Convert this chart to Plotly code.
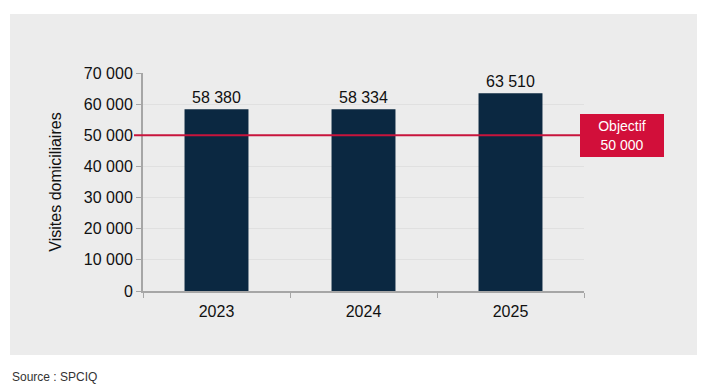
import plotly.graph_objects as go

years = ["2023", "2024", "2025"]
visits = [58380, 58334, 63510]
bar_labels = ["58 380", "58 334", "63 510"]
tick_vals = [0, 10000, 20000, 30000, 40000, 50000, 60000, 70000]
tick_text = ["0", "10 000", "20 000", "30 000", "40 000", "50 000", "60 000", "70 000"]
target = 50000
target_label = "Objectif<br>50 000"
source = "Source : SPCIQ"

W, H = 704, 389
L, R, T, B = 143, 584, 73, 291
pw, ph = R - L, B - T

def px(x):
    return (x - L) / pw

def py(y):
    return (B - y) / ph

font = "Liberation Sans, Arial, sans-serif"

fig = go.Figure()
fig.add_trace(go.Bar(
    x=years, y=visits, text=bar_labels, textposition="outside",
    textfont=dict(size=16, color="#111111", family=font),
    marker=dict(color="#0b2841", line=dict(width=0)),
    width=0.435, cliponaxis=False, hoverinfo="skip",
))

fig.add_shape(type="rect", xref="paper", yref="paper",
              x0=px(10), x1=px(697), y0=py(355), y1=py(14),
              fillcolor="#ececec", line=dict(width=0), layer="below")
fig.add_shape(type="line", xref="paper", yref="y",
              x0=px(134), x1=px(580), y0=target, y1=target,
              line=dict(color="#c8143c", width=2))

fig.add_annotation(xref="paper", yref="y", x=px(580), y=target,
                   xanchor="left", yanchor="middle", text=target_label,
                   showarrow=False, align="center",
                   font=dict(size=14, color="#ffffff", family=font),
                   bgcolor="#d20f3a", width=76, height=35, borderpad=4,
                   borderwidth=0)

fig.add_annotation(xref="paper", yref="paper", x=px(10), y=py(377),
                   xanchor="left", yanchor="middle", text=source,
                   showarrow=False,
                   font=dict(size=12, color="#333333", family=font))

fig.update_layout(
    width=W, height=H,
    margin=dict(l=L, r=W - R, t=T, b=H - B),
    paper_bgcolor="#ffffff", plot_bgcolor="rgba(0,0,0,0)",
    showlegend=False, bargap=0.565,
    font=dict(family=font, size=16, color="#111111"),
    xaxis=dict(showline=True, linecolor="#a6a6a6", linewidth=2,
               ticks="outside", ticklen=5, tickcolor="#a6a6a6",
               tickson="boundaries", showgrid=False, ticklabelstandoff=5,
               tickfont=dict(size=16, color="#111111")),
    yaxis=dict(range=[0, 70000], tickvals=tick_vals, ticktext=tick_text,
               showline=True, linecolor="#a6a6a6", linewidth=2,
               ticks="outside", ticklen=5, tickcolor="#a6a6a6",
               showgrid=True, gridcolor="#e0e0e0", gridwidth=1,
               zeroline=False,
               tickfont=dict(size=16, color="#111111"),
               title=dict(text="Visites domiciliaires", standoff=18,
                          font=dict(size=16, color="#111111"))),
)

fig.write_html("out.html", config={"displayModeBar": False},
               post_script="document.body.style.margin='0px';document.body.style.overflow='hidden';")
